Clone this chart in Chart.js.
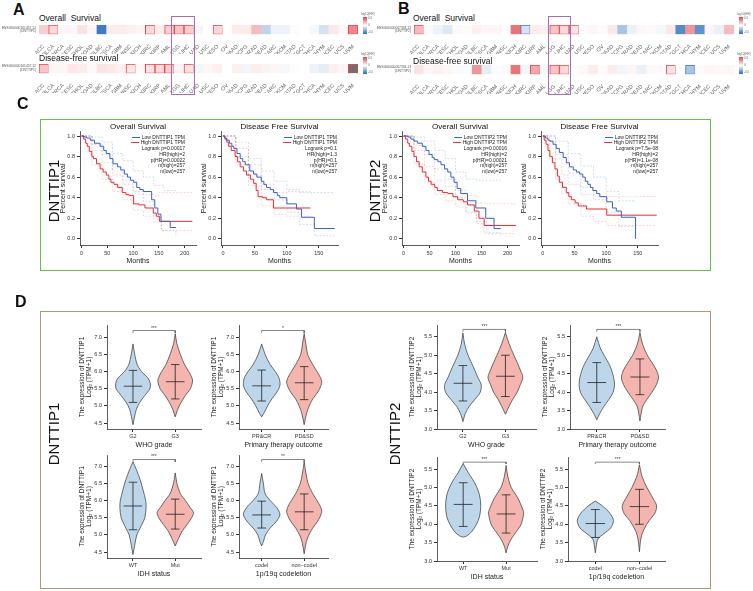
<!DOCTYPE html>
<html>
<head>
<meta charset="utf-8">
<script src="https://cdn.jsdelivr.net/npm/chart.js"></script>
<style>
  body { margin: 0; background: #fff; }
  #fig { position: relative; width: 753px; height: 591px; overflow: hidden; font-family: Arial, "Liberation Sans", Helvetica, sans-serif; color: #111; }
  #fig canvas { position: absolute; }
  .t { position: absolute; white-space: nowrap; line-height: 1; }
  .box { position: absolute; box-sizing: border-box; }
</style>
</head>
<body>
<div id="fig"></div>
<script>
// ---- heatmap data (log10 HR, null = not available) ----
var cancerTypes = ['ACC','BLCA','BRCA','CESC','CHOL','COAD','DLBC','ESCA','GBM','HNSC','KICH','KIRC','KIRP','LAML','LGG','LIHC','LUAD','LUSC','MESO','OV','PAAD','PCPG','PRAD','READ','SARC','SKCM','STAD','TGCT','THCA','THYM','UCEC','UCS','UVM'];
var osHR1  = [0.25,0.2,0.05,0.05,0.15,0.05,-0.9,0.1,0.1,0.08,0.05,0.2,0.1,0.25,0.3,0.25,-0.05,0,0.2,0,0.1,0.1,0.35,-0.3,-0.08,-0.08,0.02,0,-0.05,-0.2,0.12,0.05,0.62];
var dfsHR1 = [0.3,0.05,0.05,0.12,0.1,0.03,0.15,0.12,0.08,0.12,0.03,0.15,0.2,0.25,0.06,0.15,-0.06,0.05,0.08,0,0.08,-0.06,0.1,0.06,0.05,-0.04,0.02,0,-0.08,-0.12,0.08,0.05,null];
var osHR2  = [0.35,0.03,-0.08,-0.15,0.03,0.02,0.08,0.05,0.05,0,0.72,-0.2,0.1,0.08,0.3,0.2,0.15,-0.03,0.05,0.02,0.12,-0.4,-0.1,0.05,0.03,-0.05,0.12,-0.8,0.55,-0.75,0.05,-0.1,0.35];
var dfsHR2 = [0.15,0.05,0.08,0.05,-0.03,-0.03,0.55,-0.12,-0.03,0.02,0.72,-0.06,0.45,-0.05,0.3,0.2,0,0.03,0.1,0.02,0.1,-0.06,0.05,-0.1,0.03,0.02,0.15,0,-0.4,0.02,0.05,0.03,0.05];
var osSig1  = ['BLCA','KIRC','LAML','LGG','LIHC','MESO','UVM'];
var dfsSig1 = ['ACC','HNSC','KIRC','KIRP','LAML','LIHC','UVM'];
var osSig2  = ['ACC','KIRC','LGG','LIHC','LUAD'];
var dfsSig2 = ['KIRP','LGG','LIHC','STAD','THCA'];

// ---- Kaplan-Meier curves [month, survival] ----
var monthTicks = [0, 50, 100, 150, 200];
var survTicks = [0, 0.2, 0.4, 0.6, 0.8, 1.0];
var km1Low  = [[0,1],[5,0.99],[10,0.98],[17,0.96],[25,0.93],[36,0.9],[43,0.86],[48,0.83],[55,0.78],[61,0.73],[70,0.7],[76,0.67],[83,0.63],[89,0.6],[95,0.57],[101,0.55],[107,0.5],[113,0.48],[120,0.46],[136,0.38],[142,0.3],[148,0.24],[154,0.17],[172,0.11],[183,0.11]];
var km1High = [[0,1],[4,0.97],[8,0.93],[11,0.9],[15,0.85],[20,0.8],[23,0.78],[29,0.73],[36,0.68],[42,0.65],[48,0.62],[53,0.58],[57,0.55],[63,0.53],[70,0.5],[79,0.45],[86,0.43],[92,0.42],[101,0.34],[111,0.33],[123,0.3],[139,0.25],[145,0.22],[151,0.17],[215,0.17]];
var km1LowUp  = [[0,1],[20,0.99],[40,0.94],[60,0.83],[80,0.76],[100,0.66],[120,0.6],[140,0.52],[160,0.47],[183,0.47]];
var km1LowDn  = [[0,1],[20,0.92],[40,0.82],[60,0.66],[80,0.57],[100,0.46],[120,0.36],[140,0.22],[155,0.08],[183,0.03]];
var km1HighUp = [[0,1],[20,0.86],[40,0.74],[60,0.62],[80,0.53],[100,0.47],[110,0.43],[140,0.42],[150,0.45],[215,0.45]];
var km1HighDn = [[0,1],[20,0.72],[40,0.58],[60,0.46],[80,0.38],[100,0.28],[120,0.22],[140,0.16],[155,0.08],[215,0.07]];

var km2Low  = [[0,1],[3,0.98],[6,0.96],[10,0.93],[14,0.9],[17,0.88],[22,0.83],[27,0.78],[31,0.75],[35,0.72],[42,0.66],[48,0.63],[53,0.6],[60,0.56],[64,0.53],[68,0.5],[74,0.48],[79,0.45],[85,0.42],[89,0.4],[100,0.34],[115,0.29],[123,0.21],[143,0.1],[175,0.1]];
var km2High = [[0,1],[3,0.97],[6,0.94],[9,0.9],[13,0.86],[19,0.8],[23,0.75],[27,0.7],[32,0.66],[37,0.62],[43,0.58],[48,0.54],[52,0.47],[55,0.41],[62,0.4],[68,0.38],[79,0.3],[137,0.3]];
var km2LowUp  = [[0,1],[20,0.94],[40,0.78],[60,0.66],[80,0.56],[100,0.48],[120,0.45],[175,0.45]];
var km2LowDn  = [[0,1],[20,0.8],[40,0.62],[60,0.48],[80,0.38],[100,0.26],[120,0.14],[143,0.03],[175,0.03]];
var km2HighUp = [[0,1],[20,0.88],[40,0.72],[60,0.53],[80,0.45],[100,0.46],[137,0.46]];
var km2HighDn = [[0,1],[20,0.72],[40,0.52],[60,0.32],[80,0.24],[100,0.22],[137,0.22]];

var km3Low  = [[0,1],[8,0.99],[14,0.97],[20,0.95],[27,0.93],[36,0.9],[43,0.86],[49,0.82],[55,0.79],[59,0.77],[66,0.75],[72,0.72],[79,0.68],[85,0.65],[91,0.6],[97,0.55],[103,0.49],[110,0.44],[123,0.37],[139,0.3],[158,0.2],[174,0.1],[187,0.1]];
var km3High = [[0,1],[4,0.97],[8,0.93],[11,0.9],[16,0.85],[20,0.8],[25,0.75],[30,0.7],[36,0.65],[43,0.6],[48,0.56],[53,0.53],[60,0.5],[65,0.47],[75,0.45],[85,0.44],[95,0.41],[104,0.38],[115,0.36],[123,0.33],[136,0.27],[145,0.2],[155,0.13],[216,0.13]];
var km3LowUp  = [[0,1],[20,0.99],[40,0.95],[60,0.86],[80,0.78],[100,0.65],[120,0.58],[140,0.57],[187,0.57]];
var km3LowDn  = [[0,1],[20,0.91],[40,0.82],[60,0.68],[80,0.58],[100,0.4],[120,0.26],[140,0.17],[160,0.06],[187,0.03]];
var km3HighUp = [[0,1],[20,0.86],[40,0.7],[60,0.57],[80,0.51],[100,0.47],[120,0.42],[140,0.35],[160,0.34],[216,0.34]];
var km3HighDn = [[0,1],[20,0.73],[40,0.55],[60,0.43],[80,0.37],[100,0.31],[120,0.25],[140,0.15],[155,0.05],[216,0.05]];

var km4Low  = [[0,1],[4,0.98],[8,0.96],[11,0.95],[16,0.92],[21,0.88],[26,0.84],[32,0.79],[37,0.74],[42,0.7],[48,0.67],[53,0.65],[58,0.63],[63,0.6],[67,0.56],[71,0.53],[75,0.5],[79,0.47],[85,0.44],[90,0.41],[101,0.36],[110,0.3],[116,0.27],[124,0.21],[146,0.21],[146.5,0]];
var km4High = [[0,1],[2,0.96],[5,0.92],[8,0.86],[11,0.8],[15,0.74],[19,0.68],[23,0.61],[26,0.55],[31,0.5],[37,0.45],[41,0.41],[45,0.38],[51,0.35],[56,0.32],[69,0.29],[101,0.23],[180,0.23]];
var km4LowUp  = [[0,1],[20,0.95],[40,0.83],[60,0.71],[80,0.6],[100,0.46],[120,0.37],[146,0.36]];
var km4LowDn  = [[0,1],[20,0.82],[40,0.64],[60,0.5],[80,0.38],[100,0.26],[120,0.12],[146,0.1]];
var km4HighUp = [[0,1],[10,0.92],[20,0.78],[30,0.62],[40,0.53],[60,0.43],[80,0.41],[180,0.41]];
var km4HighDn = [[0,1],[10,0.78],[20,0.58],[30,0.44],[40,0.34],[60,0.22],[80,0.17],[101,0.13],[180,0.13]];

var km1Stats = ['Logrank p=0.00017','HR(high)=2','p(HR)=0.00022','n(high)=257','n(low)=257'];
var km2Stats = ['Logrank p=0.1','HR(high)=1.3','p(HR)=0.1','n(high)=257','n(low)=257'];
var km3Stats = ['Logrank p=0.00016','HR(high)=2','p(HR)=0.00021','n(high)=257','n(low)=257'];
var km4Stats = ['Logrank p=7.5e-08','HR(high)=2','p(HR)=1.1e-08','n(high)=257','n(low)=257'];

// ---- violin outlines [expression, half width], summary [mean, low, high] ----
var gene1Ticks = [4.5, 5.0, 5.5, 6.0, 6.5, 7.0];
var gene2Ticks = [3.0, 3.5, 4.0, 4.5, 5.0, 5.5];
var who1G2  = [[6.8,0],[6.5,0.04],[6.2,0.1],[6.0,0.2],[5.8,0.36],[5.65,0.41],[5.5,0.4],[5.3,0.28],[5.1,0.16],[4.9,0.08],[4.7,0.04],[4.45,0]];
var who1G3  = [[7.1,0],[6.8,0.04],[6.5,0.12],[6.2,0.22],[6.0,0.32],[5.8,0.4],[5.7,0.41],[5.5,0.36],[5.3,0.24],[5.1,0.14],[4.9,0.06],[4.68,0]];
var ther1A  = [[6.8,0],[6.5,0.08],[6.2,0.2],[6.0,0.32],[5.8,0.41],[5.6,0.43],[5.4,0.36],[5.2,0.24],[5.0,0.14],[4.8,0.06],[4.68,0]];
var ther1B  = [[7.1,0],[6.8,0.04],[6.5,0.08],[6.2,0.2],[6.0,0.3],[5.8,0.39],[5.65,0.41],[5.4,0.32],[5.2,0.2],[5.0,0.12],[4.8,0.06],[4.45,0]];
var idh1WT  = [[7.12,0],[6.9,0.08],[6.6,0.17],[6.3,0.24],[6.0,0.3],[5.8,0.31],[5.5,0.28],[5.2,0.17],[5.0,0.09],[4.7,0.04],[4.43,0]];
var idh1Mut = [[6.8,0],[6.5,0.04],[6.2,0.12],[6.0,0.24],[5.8,0.35],[5.65,0.43],[5.5,0.39],[5.3,0.28],[5.1,0.16],[4.9,0.08],[4.68,0]];
var cod1A   = [[6.78,0],[6.5,0.04],[6.2,0.08],[6.0,0.2],[5.8,0.35],[5.6,0.43],[5.4,0.35],[5.2,0.2],[5.0,0.09],[4.8,0.04],[4.68,0]];
var cod1B   = [[7.12,0],[6.8,0.04],[6.5,0.09],[6.2,0.2],[6.0,0.3],[5.8,0.39],[5.65,0.41],[5.4,0.32],[5.2,0.2],[5.0,0.11],[4.8,0.05],[4.45,0]];
var who2G2  = [[5.6,0],[5.3,0.04],[5.0,0.12],[4.7,0.24],[4.4,0.35],[4.2,0.43],[4.0,0.41],[3.8,0.28],[3.6,0.14],[3.4,0.05],[3.2,0]];
var who2G3  = [[5.62,0],[5.3,0.09],[5.0,0.2],[4.8,0.28],[4.6,0.35],[4.4,0.41],[4.2,0.35],[4.0,0.28],[3.8,0.17],[3.6,0.08],[3.4,0]];
var ther2A  = [[5.5,0],[5.2,0.08],[5.0,0.17],[4.7,0.31],[4.4,0.39],[4.2,0.41],[4.0,0.38],[3.8,0.28],[3.6,0.16],[3.4,0.06],[3.25,0]];
var ther2B  = [[5.62,0],[5.3,0.06],[5.0,0.17],[4.8,0.28],[4.6,0.38],[4.4,0.43],[4.2,0.38],[4.0,0.28],[3.8,0.16],[3.6,0.06],[3.22,0]];
var idh2WT  = [[5.65,0],[5.4,0.12],[5.1,0.28],[4.8,0.38],[4.5,0.41],[4.2,0.38],[4.0,0.31],[3.8,0.2],[3.68,0.08],[3.65,0]];
var idh2Mut = [[5.6,0],[5.3,0.04],[5.0,0.12],[4.7,0.28],[4.4,0.39],[4.3,0.41],[4.0,0.35],[3.8,0.24],[3.6,0.12],[3.4,0.04],[3.22,0]];
var cod2A   = [[4.63,0],[4.5,0.16],[4.3,0.33],[4.1,0.41],[3.9,0.35],[3.75,0.2],[3.6,0.06],[3.4,0.02],[3.22,0]];
var cod2B   = [[5.62,0],[5.3,0.06],[5.0,0.17],[4.7,0.31],[4.5,0.39],[4.3,0.35],[4.1,0.22],[3.9,0.12],[3.7,0.05],[3.5,0.02],[3.25,0]];
var who1Stats  = [[5.57,5.1,6.03],[5.7,5.2,6.2]];
var ther1Stats = [[5.58,5.14,6.04],[5.67,5.18,6.14]];
var idh1Stats  = [[5.84,5.15,6.53],[5.6,5.17,6.04]];
var cod1Stats  = [[5.58,5.2,5.98],[5.67,5.15,6.19]];
var who2Stats  = [[4.24,3.76,4.72],[4.43,3.88,5.0]];
var ther2Stats = [[4.26,3.72,4.8],[4.41,3.93,4.9]];
var idh2Stats  = [[4.54,3.94,5.13],[4.28,3.76,4.8]];
var cod2Stats  = [[4.02,3.64,4.4],[4.48,4.0,4.95]];
var whoNames = ['G2','G3'], therNames = ['PR&CR','PD&SD'], idhNames = ['WT','Mut'], codNames = ['codel','non\u2212codel'];

Chart.defaults.font.family = 'Arial, "Liberation Sans", Helvetica, sans-serif';
Chart.defaults.color = '#222';
Chart.defaults.animation = false;
Chart.defaults.responsive = false;
Chart.defaults.events = [];
Chart.defaults.plugins.legend.display = false;
Chart.defaults.plugins.tooltip.enabled = false;

var fig = document.getElementById('fig');

function addCanvas(x, y, w, h) {
  var c = document.createElement('canvas');
  c.width = Math.round(w); c.height = Math.round(h);
  c.style.left = x + 'px'; c.style.top = y + 'px';
  fig.appendChild(c);
  return c;
}
function addText(txt, x, y, css) {
  var d = document.createElement('div');
  d.className = 't';
  d.textContent = txt;
  d.style.left = x + 'px'; d.style.top = y + 'px';
  if (css) d.style.cssText += css;
  fig.appendChild(d);
  return d;
}
function addBox(x, y, w, h, css) {
  var d = document.createElement('div');
  d.className = 'box';
  d.style.cssText += 'left:' + x + 'px;top:' + y + 'px;width:' + w + 'px;height:' + h + 'px;' + css;
  fig.appendChild(d);
}

function hrColor(v) {
  if (v === null) return '#6f6f6f';
  var t = Math.min(Math.abs(v), 1);
  var end = v >= 0 ? [226, 62, 68] : [40, 110, 190];
  return 'rgb(' + end.map(function(e) { return Math.round(255 + (e - 255) * t); }).join(',') + ')';
}

// ---------- A / B heatmaps ----------
function heatRow(left, top, padL, hr, sig) {
  var cv = addCanvas(left, top - 2, 376, 31);
  new Chart(cv, {
    type: 'bar',
    data: {
      labels: cancerTypes,
      datasets: [{
        data: cancerTypes.map(function() { return 1; }),
        backgroundColor: hr.map(hrColor),
        borderColor: hr.map(function(v) { return v !== null && v < 0 ? '#4a70c2' : '#e8474c'; }),
        borderWidth: cancerTypes.map(function(c) { return sig.indexOf(c) >= 0 ? 1 : 0; }),
        borderSkipped: false,
        barPercentage: 1,
        categoryPercentage: 1
      }]
    },
    options: {
      layout: { padding: { left: padL, right: 18, top: 2, bottom: 0 } },
      scales: {
        x: {
          grid: { display: false }, border: { display: false },
          ticks: { autoSkip: false, minRotation: 45, maxRotation: 45, padding: 1, color: '#666', font: { size: 5.5 } },
          afterFit: function(s) { s.height = 19.7; }
        },
        y: { display: false, min: 0, max: 1 }
      }
    }
  });
}

function heatLegend(x, y) {
  addText('log10(HR)', x - 2, y - 4, 'font-size:3px;color:#666;');
  addBox(x, y, 4, 17, 'background:linear-gradient(#e23e44,#fff,#286ebe);');
  addText('0.5', x + 5, y, 'font-size:3px;color:#666;');
  addText('0', x + 5, y + 7, 'font-size:3px;color:#666;');
  addText('-0.5', x + 5, y + 14, 'font-size:3px;color:#666;');
}

heatRow(0, 25, 39, osHR1, osSig1);
heatRow(0, 63.5, 39, dfsHR1, dfsSig1);
heatRow(376, 25, 38, osHR2, osSig2);
heatRow(376, 64.5, 38, dfsHR2, dfsSig2);

addText('A', 13, 2, 'font-size:16px;font-weight:bold;');
addText('B', 398, 1, 'font-size:16px;font-weight:bold;');
addText('Overall  Survival', 39, 14, 'font-size:8.5px;white-space:pre;');
addText('Disease-free survival', 39, 54, 'font-size:8.5px;');
addText('Overall  Survival', 413, 14, 'font-size:8.5px;white-space:pre;');
addText('Disease-free survival', 413, 57, 'font-size:8.5px;');
[[36, 26.5, 'ENSG00000101457.12', '(DNTTIP1)'], [36, 65, 'ENSG00000101457.12', '(DNTTIP1)'],
 [411, 26.5, 'ENSG00000067334.13', '(DNTTIP2)'], [411, 66, 'ENSG00000067334.13', '(DNTTIP2)']].forEach(function(r) {
  var d = addText(r[2], r[0], r[1], 'font-size:3.3px;color:#555;transform:translateX(-100%);text-align:right;line-height:1.1;');
  d.innerHTML = r[2] + '<br>' + r[3];
});
heatLegend(363, 17);
heatLegend(363, 57);
heatLegend(739, 17);
heatLegend(739, 57);
addBox(171, 16, 24, 79, 'border:1.5px solid #a56cc2;');
addBox(548, 16, 23, 79, 'border:1.5px solid #a56cc2;');

// ---------- C: Kaplan-Meier ----------
function pts(arr) { return arr.map(function(p) { return { x: p[0], y: p[1] }; }); }

function kmPlot(o) {
  var axisW = 30, top = 120, h = 150;
  var cv = addCanvas(o.left - axisW, top, axisW + o.width + 4, h);
  var blue = '#3a5fc4', red = '#ee2a30';
  var ciBlue = 'rgba(90,120,210,0.45)', ciRed = 'rgba(240,110,110,0.5)';
  function ci(arr, col) {
    return { data: pts(arr), showLine: true, stepped: true, borderColor: col, borderWidth: 0.6, borderDash: [2, 1.5], pointRadius: 0, order: 2 };
  }
  new Chart(cv, {
    type: 'scatter',
    data: { datasets: [
      ci(o.lowUp, ciBlue), ci(o.lowDn, ciBlue), ci(o.highUp, ciRed), ci(o.highDn, ciRed),
      { data: pts(o.low), showLine: true, stepped: true, borderColor: blue, borderWidth: 1, pointRadius: 0, order: 0 },
      { data: pts(o.high), showLine: true, stepped: true, borderColor: red, borderWidth: 1, pointRadius: 0, order: 1 }
    ] },
    options: {
      layout: { padding: { left: 0, right: 4, top: 11.9, bottom: 0 } },
      scales: {
        x: {
          type: 'linear', min: -3, max: o.xMax,
          afterBuildTicks: function(s) { s.ticks = monthTicks.filter(function(v) { return v <= o.xMax - 10; }).map(function(v) { return { value: v }; }); },
          grid: { drawOnChartArea: false, tickLength: 3, color: '#333' },
          border: { color: '#333', width: 0.8 },
          ticks: { font: { size: 5.5 }, color: '#333', padding: 2 },
          title: { display: true, text: 'Months', font: { size: 7 }, padding: { top: 0, bottom: 5 } },
          afterFit: function(s) { s.height = 25; }
        },
        y: {
          min: -0.06, max: 1.04,
          afterBuildTicks: function(s) { s.ticks = survTicks.map(function(v) { return { value: v }; }); },
          grid: { drawOnChartArea: false, tickLength: 3, color: '#333' },
          border: { color: '#333', width: 0.8 },
          ticks: { font: { size: 5.5 }, color: '#333', padding: 2, callback: function(v) { return v.toFixed(1); } },
          title: { display: true, text: 'Percent survival', font: { size: 7 }, padding: { top: 9, bottom: 0 } },
          afterFit: function(s) { s.width = axisW; }
        }
      }
    }
  });
  addText(o.title, o.left + o.width / 2, 123, 'font-size:8px;transform:translateX(-50%);');
  var lg = document.createElement('div');
  lg.className = 't';
  lg.style.cssText += 'left:' + o.legRight + 'px;top:134.5px;transform:translateX(-100%);text-align:right;font-size:5px;line-height:5.8px;color:#222;';
  var sw = function(c) { return '<span style="display:inline-block;width:8px;height:0;border-top:1px solid ' + c + ';vertical-align:middle;margin-right:1.5px"></span>'; };
  lg.innerHTML = sw(blue) + 'Low ' + o.gene + ' TPM<br>' + sw(red) + 'High ' + o.gene + ' TPM<br>' + o.stats.join('<br>');
  fig.appendChild(lg);
}

kmPlot({ left: 80, width: 116, xMax: 222, low: km1Low, high: km1High, lowUp: km1LowUp, lowDn: km1LowDn, highUp: km1HighUp, highDn: km1HighDn, title: 'Overall Survival', gene: 'DNTTIP1', stats: km1Stats, legRight: 185 });
kmPlot({ left: 221, width: 117, xMax: 180, low: km2Low, high: km2High, lowUp: km2LowUp, lowDn: km2LowDn, highUp: km2HighUp, highDn: km2HighDn, title: 'Disease Free Survival', gene: 'DNTTIP1', stats: km2Stats, legRight: 337 });
kmPlot({ left: 401.5, width: 117, xMax: 222, low: km3Low, high: km3High, lowUp: km3LowUp, lowDn: km3LowDn, highUp: km3HighUp, highDn: km3HighDn, title: 'Overall Survival', gene: 'DNTTIP2', stats: km3Stats, legRight: 507 });
kmPlot({ left: 541, width: 117, xMax: 182, low: km4Low, high: km4High, lowUp: km4LowUp, lowDn: km4LowDn, highUp: km4HighUp, highDn: km4HighDn, title: 'Disease Free Survival', gene: 'DNTTIP2', stats: km4Stats, legRight: 658 });

addText('C', 17, 96, 'font-size:16px;font-weight:bold;');
addBox(40, 119, 671, 152, 'border:1.5px solid #62c04c;');
addText('DNTTIP1', 53, 191, 'font-size:15px;transform:translate(-50%,-50%) rotate(-90deg);');
addText('DNTTIP2', 374, 191, 'font-size:15px;transform:translate(-50%,-50%) rotate(-90deg);');

// ---------- D: violins ----------
function violinPlot(o) {
  var axisW = 42, padT = 6, axisH = 24, H = o.bottom - o.top, W = o.right - o.axisX;
  var cv = addCanvas(o.axisX - axisW, o.top - padT, axisW + W + 4, padT + H + axisH);
  var fills = ['#bdd6ea', '#f4b5af'];
  var ds = [];
  o.groups.forEach(function(g, i) {
    var c = i + 1;
    var right = g.map(function(p) { return { x: c + p[1], y: p[0] }; });
    var left = g.slice().reverse().map(function(p) { return { x: c - p[1], y: p[0] }; });
    ds.push({ data: right.concat(left), showLine: true, fill: 'shape', backgroundColor: fills[i], borderColor: '#333', borderWidth: 0.7, pointRadius: 0, tension: 0.3, order: 2 });
  });
  o.stats.forEach(function(s, i) {
    var c = i + 1, m = s[0], lo = s[1], hi = s[2];
    ds.push({ data: [
      { x: c - 0.1, y: lo }, { x: c + 0.1, y: lo }, { x: c, y: null },
      { x: c, y: lo }, { x: c, y: hi }, { x: c, y: null },
      { x: c - 0.1, y: hi }, { x: c + 0.1, y: hi }, { x: c, y: null },
      { x: c - 0.22, y: m }, { x: c + 0.22, y: m }
    ], showLine: true, borderColor: '#222', borderWidth: 0.8, pointRadius: 0, order: 0 });
  });
  ds.push({ data: [{ x: 1, y: o.bracket[0] }, { x: 1, y: o.bracket[1] }, { x: 2, y: o.bracket[1] }, { x: 2, y: o.bracket[0] }],
            showLine: true, borderColor: '#555', borderWidth: 0.7, pointRadius: 0, order: 0 });
  var chart = new Chart(cv, {
    type: 'scatter',
    data: { datasets: ds },
    options: {
      layout: { padding: { left: 0, right: 4, top: padT, bottom: 0 } },
      scales: {
        x: {
          type: 'linear', min: o.xMin, max: o.xMax,
          afterBuildTicks: function(s) { s.ticks = [{ value: 1 }, { value: 2 }]; },
          grid: { drawOnChartArea: false, tickLength: 3, color: '#333' },
          border: { color: '#333', width: 0.8 },
          ticks: { font: { size: 5.5 }, color: '#333', padding: 1, callback: function(v) { return o.names[v - 1]; } },
          title: { display: true, text: o.xTitle, font: { size: 7 }, padding: { top: 0, bottom: 4 } },
          afterFit: function(s) { s.height = axisH; }
        },
        y: {
          min: o.yMin, max: o.yMax,
          afterBuildTicks: function(s) { s.ticks = o.yTicks.map(function(v) { return { value: v }; }); },
          grid: { drawOnChartArea: false, tickLength: 3, color: '#333' },
          border: { color: '#333', width: 0.8 },
          ticks: { font: { size: 5.5 }, color: '#333', padding: 2, callback: function(v) { return v.toFixed(1); } },
          title: { display: true, text: ['The expression of ' + o.gene, 'Log\u2082 (TPM+1)'], font: { size: 6.5 }, padding: { top: 13, bottom: 0 } },
          afterFit: function(s) { s.width = axisW; }
        }
      }
    }
  });
  var sx = o.axisX - axisW + chart.scales.x.getPixelForValue(1.5);
  var sy = o.top - padT + chart.scales.y.getPixelForValue(o.bracket[1]);
  addText(o.stars, sx, sy - 5, 'font-size:5px;color:#444;transform:translateX(-50%);');
}

var g1r1 = { top: 325, bottom: 429, yMin: 4.326, yMax: 7.35, yTicks: gene1Ticks, gene: 'DNTTIP1', bracket: [7.12, 7.19] };
var g1r2 = { top: 455, bottom: 558, yMin: 4.33, yMax: 7.32, yTicks: gene1Ticks, gene: 'DNTTIP1', bracket: [7.12, 7.19] };
var g2r1 = { top: 325, bottom: 429, yMin: 3.0, yMax: 5.82, yTicks: gene2Ticks, gene: 'DNTTIP2', bracket: [5.64, 5.7] };
var g2r2 = { top: 457, bottom: 561, yMin: 3.0, yMax: 5.83, yTicks: gene2Ticks, gene: 'DNTTIP2', bracket: [5.64, 5.69] };
function mix(a, b) { return Object.assign({}, a, b); }

violinPlot(mix(g1r1, { axisX: 106.7, right: 200.8, xMin: 0.385, xMax: 2.61, groups: [who1G2, who1G3], stats: who1Stats, names: whoNames, xTitle: 'WHO grade', stars: '***' }));
violinPlot(mix(g1r1, { axisX: 239, right: 328.2, xMin: 0.467, xMax: 2.56, groups: [ther1A, ther1B], stats: ther1Stats, names: therNames, xTitle: 'Primary therapy outcome', stars: '*' }));
violinPlot(mix(g1r2, { axisX: 106.7, right: 200.8, xMin: 0.385, xMax: 2.61, groups: [idh1WT, idh1Mut], stats: idh1Stats, names: idhNames, xTitle: 'IDH status', stars: '***' }));
violinPlot(mix(g1r2, { axisX: 239, right: 328.2, xMin: 0.467, xMax: 2.56, groups: [cod1A, cod1B], stats: cod1Stats, names: codNames, xTitle: '1p/19q codeletion', stars: '**' }));
violinPlot(mix(g2r1, { axisX: 437.3, right: 536.8, xMin: 0.39, xMax: 2.72, groups: [who2G2, who2G3], stats: who2Stats, names: whoNames, xTitle: 'WHO grade', stars: '***' }));
violinPlot(mix(g2r1, { axisX: 570, right: 665.3, xMin: 0.38, xMax: 2.58, groups: [ther2A, ther2B], stats: ther2Stats, names: therNames, xTitle: 'Primary therapy outcome', stars: '***' }));
violinPlot(mix(g2r2, { axisX: 436.7, right: 536.8, xMin: 0.39, xMax: 2.72, groups: [idh2WT, idh2Mut], stats: idh2Stats, names: idhNames, xTitle: 'IDH status', stars: '***' }));
violinPlot(mix(g2r2, { axisX: 568.3, right: 665.3, xMin: 0.38, xMax: 2.58, groups: [cod2A, cod2B], stats: cod2Stats, names: codNames, xTitle: '1p/19q codeletion', stars: '***' }));

addText('D', 15, 294, 'font-size:16px;font-weight:bold;');
addBox(40, 311, 671, 278, 'border:1.5px solid #b89472;');
addText('DNTTIP1', 53, 434, 'font-size:15px;transform:translate(-50%,-50%) rotate(-90deg);');
addText('DNTTIP2', 394, 434, 'font-size:15px;transform:translate(-50%,-50%) rotate(-90deg);');
</script>
</body>
</html>
